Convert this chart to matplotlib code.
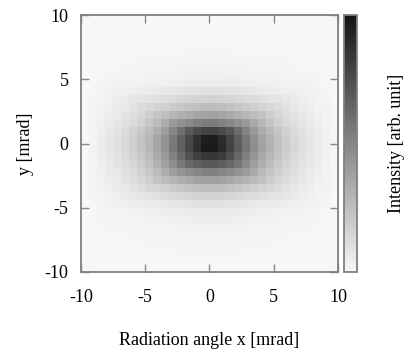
import numpy as np
import matplotlib
matplotlib.use("Agg")
import matplotlib.pyplot as plt
from matplotlib.colors import LinearSegmentedColormap

# intensity profile along x (center row), 32 cells from -10 to 10
profil_x = [0.0, 0.022, 0.048, 0.075, 0.101, 0.137, 0.176, 0.225, 0.286, 0.357,
            0.445, 0.551, 0.665, 0.780, 0.885, 0.965, 0.974, 0.903, 0.797, 0.683,
            0.568, 0.463, 0.374, 0.304, 0.242, 0.189, 0.145, 0.110, 0.079, 0.053,
            0.031, 0.009]
# intensity profile along y (center column), 32 cells from 10 (top) to -10
profil_y = [0.0, 0.0, 0.0, 0.005, 0.009, 0.018, 0.022, 0.035, 0.057, 0.10,
            0.17, 0.26, 0.38, 0.55, 0.80, 0.98, 1.0, 0.86, 0.71, 0.53,
            0.39, 0.26, 0.17, 0.10, 0.062, 0.044, 0.03, 0.02, 0.015, 0.01,
            0.005, 0.0]
bornes = [-10, 10]
ticks = [-10, -5, 0, 5, 10]

plt.rcParams['font.family'] = ['Liberation Serif', 'DejaVu Serif']
plt.rcParams['font.size'] = 13
plt.rcParams['axes.unicode_minus'] = False

# carte 2D construite a partir des deux profils (y du bas vers le haut)
px = np.array(profil_x)[None, :]
py = np.array(profil_y)[::-1][:, None]
Z = np.sqrt(np.minimum(px, py) * px * py)
bords_x = np.linspace(bornes[0], bornes[1], len(profil_x) + 1)
bords_y = np.linspace(bornes[0], bornes[1], len(profil_y) + 1)

cmap = LinearSegmentedColormap.from_list("gris", ["#f7f7f7", "#141414"])

fig = plt.figure(figsize=(4.04, 3.5), dpi=100)
ax = fig.add_axes([0.2005, 0.223, 0.6361, 0.734])
cax = fig.add_axes([0.851, 0.223, 0.033, 0.734])

m = ax.pcolormesh(bords_x, bords_y, Z, cmap=cmap, vmin=0, vmax=1, shading='flat')
ax.set_xlim(bornes)
ax.set_ylim(bornes)
ax.set_xticks(ticks)
ax.set_yticks(ticks)
ax.tick_params(direction='in', top=True, right=True, length=6, width=1,
               color='#888888')
ax.tick_params(axis='x', pad=12)
ax.tick_params(axis='y', pad=9)
for s in ax.spines.values():
    s.set_color('#808080')
    s.set_linewidth(1.3)
ax.set_xlabel('Radiation angle x [mrad]', labelpad=19)
ax.set_ylabel('y [mrad]', labelpad=8)

cb = fig.colorbar(m, cax=cax)
cb.set_ticks([])
cb.outline.set_edgecolor('#808080')
cb.outline.set_linewidth(1.3)
cb.set_label('Intensity [arb. unit]', labelpad=22)

fig.savefig('out.png', dpi=100)
